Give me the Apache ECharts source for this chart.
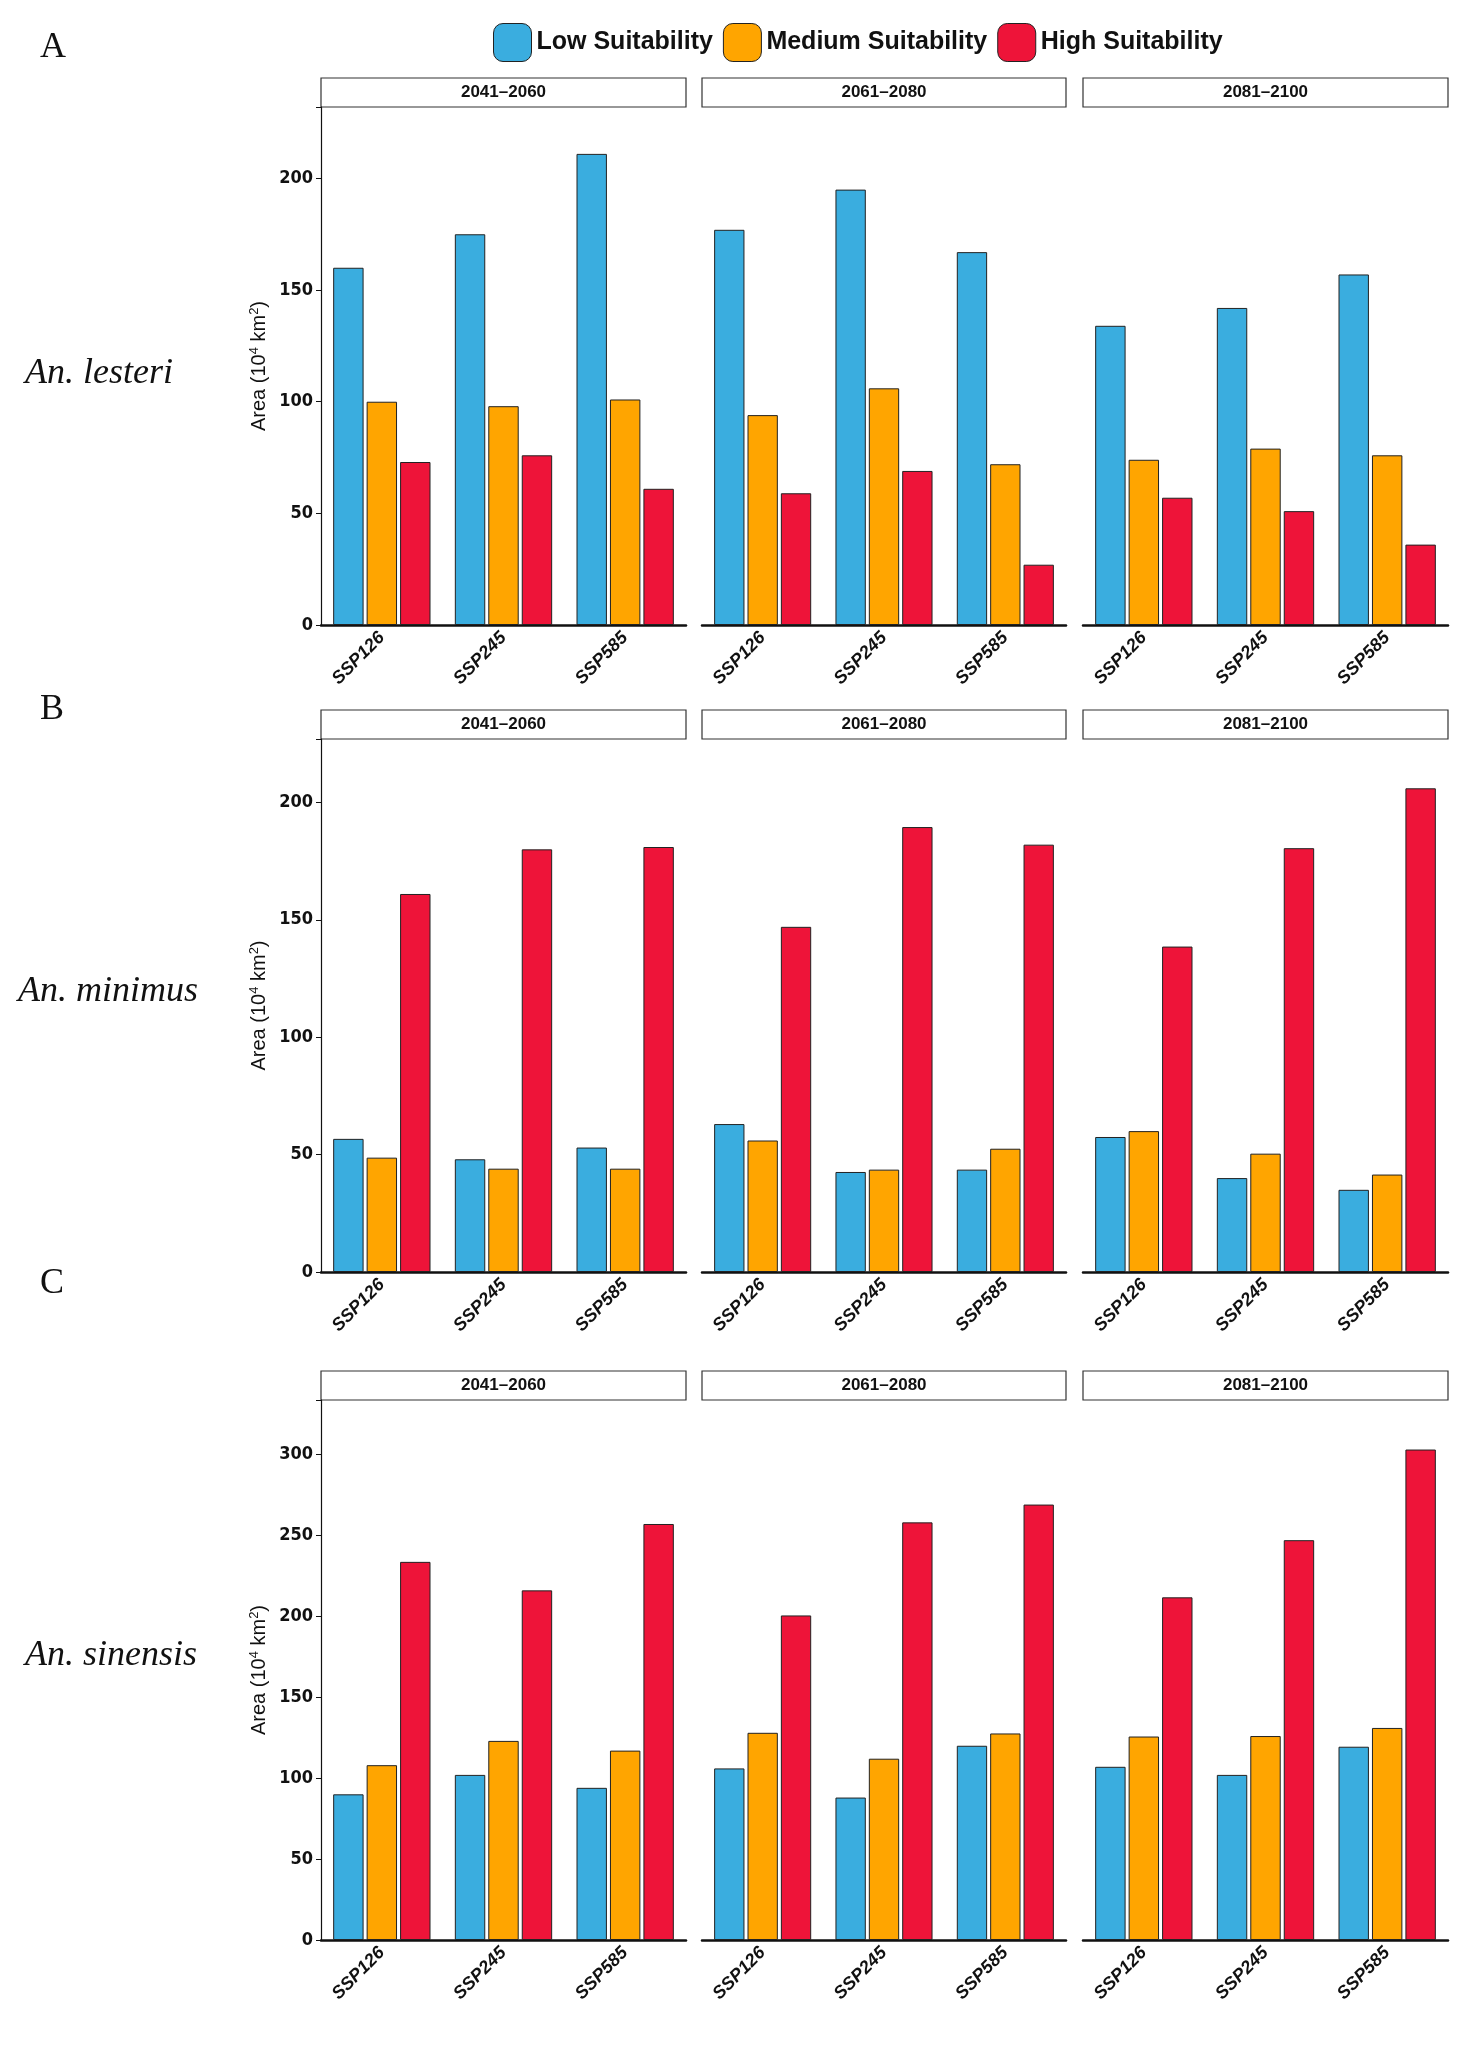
<!DOCTYPE html>
<html><head><meta charset="utf-8">
<script src="https://cdn.jsdelivr.net/npm/echarts@6/dist/echarts.min.js"></script>
<style>html,body{margin:0;padding:0;background:#fff}#c{width:1463px;height:2050px}</style>
</head><body><div id="c"></div>
<script>
const scenarios = ['SSP126','SSP245','SSP585'];
const periods = ['2041–2060','2061–2080','2081–2100'];
const seriesNames = ['Low Suitability','Medium Suitability','High Suitability'];
const species = ['An. lesteri','An. minimus','An. sinensis'];
const panelLetters = ['A','B','C'];
// values[period] = [low[], med[], high[]] per scenario
const lesteriLow  = [[160,175,211],[177,195,167],[134,142,157]];
const lesteriMed  = [[100,98,101],[94,106,72],[74,79,76]];
const lesteriHigh = [[73,76,61],[59,69,27],[57,51,36]];
const minimusLow  = [[56.7,48,53],[63,42.6,43.6],[57.5,40,35]];
const minimusMed  = [[48.7,44,44],[56,43.6,52.5],[60,50.4,41.5]];
const minimusHigh = [[161,180,181],[147,189.5,182],[138.6,180.5,206]];
const sinensisLow  = [[90,102,94],[106,88,120],[107,102,119.4]];
const sinensisMed  = [[108,123,117],[128,112,127.6],[125.7,126,131]];
const sinensisHigh = [[233.6,216,257],[200.5,258,269],[211.7,247,303]];
const yTicks = [[0,50,100,150,200],[0,50,100,150,200],[0,50,100,150,200,250,300]];
const yMax = [232,227,333.6];

const speciesData = [
  [lesteriLow,lesteriMed,lesteriHigh],
  [minimusLow,minimusMed,minimusHigh],
  [sinensisLow,sinensisMed,sinensisHigh]
];
const colors = ['#3AADDF','#FFA500','#EE1439'];

// layout
const colX = [[321,686],[702,1066],[1083,1448]];
const rows = [{strip:78,top:107,bottom:625},{strip:710,top:739,bottom:1272},{strip:1371,top:1400,bottom:1940}];
const speciesY = [378,996,1660];
const letterY = [52,714,1288];

const grids=[],xAxes=[],yAxes=[],series=[],graphic=[];
rows.forEach((r,ri)=>{
  graphic.push({type:'text',left:40,top:letterY[ri]-22,style:{text:panelLetters[ri],font:'36px "Liberation Serif"',fill:'#111'}});
  graphic.push({type:'text',left:ri===1?18:25,top:speciesY[ri]-22,style:{text:species[ri],font:'italic 36px "Liberation Serif"',fill:'#111'}});
  colX.forEach((c,ci)=>{
    const gi=grids.length;
    grids.push({left:c[0],width:c[1]-c[0],top:r.top,height:r.bottom-r.top});
    graphic.push({type:'rect',shape:{x:c[0],y:r.strip,width:c[1]-c[0],height:r.top-r.strip},style:{fill:'#fff',stroke:'#333',lineWidth:1.2}});
    graphic.push({type:'text',x:(c[0]+c[1])/2,y:(r.strip+r.top)/2,style:{text:periods[ci],font:'bold 17px "Liberation Sans"',fill:'#111',align:'center',verticalAlign:'middle'}});
    xAxes.push({type:'category',gridIndex:gi,data:scenarios,
      axisLine:{lineStyle:{color:'#111',width:2.5}},
      axisTick:{alignWithLabel:true,lineStyle:{color:'#111',width:1.5},length:5},
      axisLabel:{rotate:45,interval:0,color:'#111',fontWeight:'bold',fontStyle:'italic',fontSize:18,fontFamily:'Liberation Sans',margin:10}});
    yAxes.push({type:'value',gridIndex:gi,min:0,max:yMax[ri],interval:50,
      show:ci===0,
      axisLine:{show:true,lineStyle:{color:'#111',width:1.2}},
      axisTick:{show:true,length:5,lineStyle:{color:'#111'}},
      splitLine:{show:false},
      axisLabel:{color:'#111',fontWeight:'bold',fontSize:18,fontFamily:'DejaVu Sans Condensed',
        formatter:v=>yTicks[ri].includes(v)?String(v):''},
      name:ci===0?'Area (10{s|4} km{s|2})':'',nameLocation:'middle',nameGap:50,nameRotate:90,
      nameTextStyle:{fontSize:20,color:'#111',fontFamily:'Liberation Sans',rich:{s:{fontSize:13,verticalAlign:'top',padding:[0,0,10,0]}}}});
    for(let s=0;s<3;s++){
      series.push({type:'bar',name:seriesNames[s],xAxisIndex:gi,yAxisIndex:gi,
        data:speciesData[ri][s][ci],barGap:'10%',barCategoryGap:'20%',
        itemStyle:{color:colors[s],borderColor:'#222',borderWidth:1}});
    }
  });
});

const chart=echarts.init(document.getElementById('c'),null,{renderer:'canvas'});
chart.setOption({
  backgroundColor:'#fff',animation:false,
  legend:{top:18,left:488,itemWidth:38,itemHeight:38,itemGap:10,data:seriesNames,
    textStyle:{fontSize:25,fontWeight:'bold',color:'#111',fontFamily:'Liberation Sans'},
    itemStyle:{borderColor:'#222',borderWidth:1}},
  grid:grids,xAxis:xAxes,yAxis:yAxes,series:series,graphic:graphic
});
</script></body></html>
